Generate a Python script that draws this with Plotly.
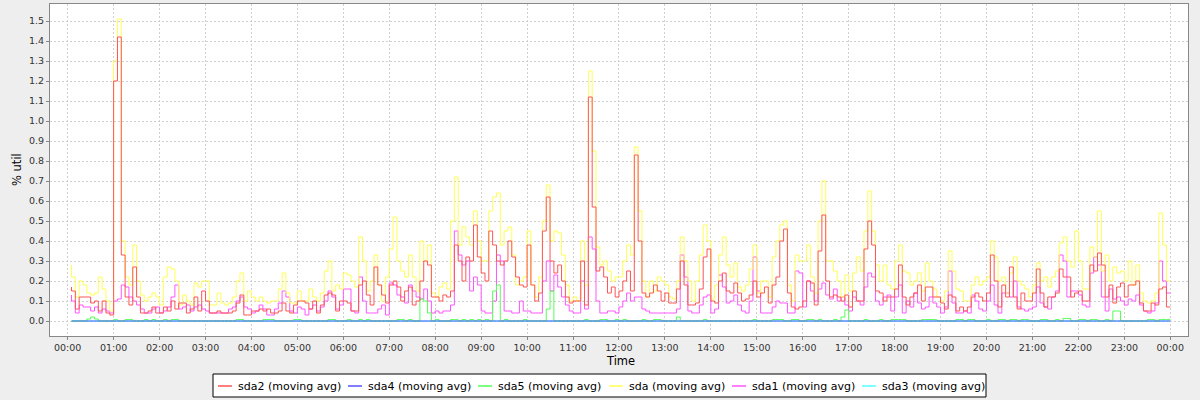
import pandas as pd
import plotly.graph_objects as go

# ---- data: 5-minute moving-average samples, 00:05 .. 24:00 (one row per hour) ----
start_time = "2024-01-01 00:05"
n_points = 288

sda2 = [
    0.17, 0.15, 0.06, 0.12, 0.12, 0.12, 0.09, 0.10, 0.05, 0.10, 0.04, 0.03,
    1.20, 1.42, 0.33, 0.12, 0.08, 0.27, 0.12, 0.04, 0.04, 0.05, 0.07, 0.04,
    0.04, 0.07, 0.05, 0.10, 0.06, 0.09, 0.09, 0.04, 0.06, 0.12, 0.05, 0.15,
    0.10, 0.04, 0.04, 0.05, 0.04, 0.04, 0.04, 0.05, 0.09, 0.13, 0.03, 0.03,
    0.05, 0.05, 0.06, 0.05, 0.06, 0.04, 0.04, 0.05, 0.09, 0.05, 0.04, 0.08,
    0.10, 0.10, 0.09, 0.06, 0.10, 0.04, 0.08, 0.13, 0.14, 0.13, 0.05, 0.10,
    0.10, 0.09, 0.05, 0.05, 0.18, 0.20, 0.13, 0.08, 0.27, 0.18, 0.13, 0.09,
    0.18, 0.20, 0.17, 0.10, 0.15, 0.17, 0.08, 0.10, 0.20, 0.30, 0.28, 0.12,
    0.12, 0.10, 0.13, 0.12, 0.15, 0.38, 0.30, 0.20, 0.32, 0.30, 0.48, 0.32,
    0.24, 0.20, 0.45, 0.38, 0.30, 0.28, 0.30, 0.40, 0.32, 0.22, 0.18, 0.17,
    0.38, 0.18, 0.10, 0.14, 0.45, 0.62, 0.30, 0.24, 0.28, 0.20, 0.12, 0.09,
    0.10, 0.10, 0.30, 0.08, 1.12, 0.57, 0.25, 0.27, 0.22, 0.14, 0.17, 0.12,
    0.15, 0.20, 0.25, 0.15, 0.83, 0.40, 0.14, 0.12, 0.14, 0.18, 0.15, 0.10,
    0.14, 0.09, 0.09, 0.16, 0.30, 0.18, 0.08, 0.08, 0.09, 0.16, 0.32, 0.36,
    0.10, 0.09, 0.20, 0.24, 0.15, 0.14, 0.19, 0.14, 0.10, 0.11, 0.13, 0.20,
    0.12, 0.14, 0.17, 0.09, 0.18, 0.22, 0.40, 0.46, 0.14, 0.07, 0.06, 0.07,
    0.10, 0.20, 0.19, 0.08, 0.35, 0.53, 0.20, 0.12, 0.13, 0.12, 0.10, 0.13,
    0.07, 0.15, 0.10, 0.10, 0.36, 0.50, 0.38, 0.15, 0.14, 0.10, 0.12, 0.12,
    0.16, 0.28, 0.12, 0.08, 0.12, 0.14, 0.18, 0.10, 0.17, 0.17, 0.12, 0.12,
    0.09, 0.06, 0.13, 0.12, 0.05, 0.07, 0.05, 0.07, 0.12, 0.14, 0.12, 0.10,
    0.14, 0.33, 0.20, 0.07, 0.18, 0.12, 0.27, 0.12, 0.06, 0.14, 0.10, 0.10,
    0.14, 0.26, 0.14, 0.07, 0.12, 0.12, 0.14, 0.26, 0.22, 0.22, 0.12, 0.14,
    0.15, 0.10, 0.10, 0.28, 0.25, 0.34, 0.28, 0.12, 0.18, 0.09, 0.17, 0.19,
    0.12, 0.18, 0.18, 0.20, 0.09, 0.05, 0.05, 0.09, 0.08, 0.16, 0.17, 0.07,
]

sda = [
    0.28, 0.22, 0.12, 0.20, 0.18, 0.14, 0.13, 0.14, 0.22, 0.16, 0.10, 0.05,
    1.30, 1.51, 0.40, 0.22, 0.18, 0.38, 0.20, 0.13, 0.10, 0.12, 0.14, 0.12,
    0.08, 0.22, 0.27, 0.26, 0.20, 0.08, 0.13, 0.10, 0.08, 0.19, 0.17, 0.20,
    0.20, 0.08, 0.08, 0.14, 0.09, 0.08, 0.09, 0.12, 0.20, 0.24, 0.10, 0.15,
    0.12, 0.10, 0.12, 0.10, 0.09, 0.10, 0.10, 0.16, 0.24, 0.14, 0.09, 0.09,
    0.15, 0.10, 0.10, 0.16, 0.12, 0.10, 0.14, 0.25, 0.30, 0.15, 0.18, 0.16,
    0.24, 0.23, 0.20, 0.17, 0.42, 0.30, 0.15, 0.20, 0.33, 0.18, 0.10, 0.22,
    0.36, 0.52, 0.30, 0.25, 0.22, 0.33, 0.22, 0.15, 0.40, 0.30, 0.38, 0.14,
    0.12, 0.17, 0.19, 0.16, 0.50, 0.72, 0.38, 0.47, 0.42, 0.38, 0.55, 0.40,
    0.30, 0.30, 0.55, 0.62, 0.64, 0.38, 0.45, 0.47, 0.33, 0.18, 0.20, 0.22,
    0.45, 0.18, 0.12, 0.22, 0.50, 0.68, 0.40, 0.45, 0.44, 0.33, 0.18, 0.10,
    0.12, 0.10, 0.40, 0.18, 1.25, 0.85, 0.37, 0.28, 0.30, 0.25, 0.20, 0.22,
    0.22, 0.30, 0.38, 0.33, 0.87, 0.55, 0.20, 0.12, 0.20, 0.15, 0.22, 0.20,
    0.18, 0.12, 0.11, 0.20, 0.42, 0.30, 0.20, 0.10, 0.20, 0.33, 0.48, 0.40,
    0.11, 0.18, 0.33, 0.42, 0.28, 0.22, 0.29, 0.17, 0.15, 0.18, 0.26, 0.38,
    0.14, 0.20, 0.20, 0.12, 0.32, 0.40, 0.48, 0.50, 0.18, 0.10, 0.33, 0.30,
    0.30, 0.38, 0.22, 0.14, 0.50, 0.70, 0.30, 0.30, 0.25, 0.20, 0.12, 0.23,
    0.15, 0.24, 0.32, 0.25, 0.45, 0.65, 0.45, 0.28, 0.20, 0.28, 0.18, 0.16,
    0.30, 0.38, 0.25, 0.24, 0.18, 0.20, 0.24, 0.15, 0.29, 0.20, 0.16, 0.12,
    0.10, 0.15, 0.35, 0.25, 0.16, 0.15, 0.10, 0.10, 0.18, 0.22, 0.18, 0.20,
    0.22, 0.40, 0.32, 0.20, 0.22, 0.14, 0.24, 0.32, 0.20, 0.18, 0.16, 0.12,
    0.18, 0.29, 0.20, 0.22, 0.17, 0.22, 0.25, 0.39, 0.42, 0.30, 0.27, 0.45,
    0.30, 0.16, 0.16, 0.37, 0.32, 0.55, 0.25, 0.33, 0.20, 0.27, 0.24, 0.25,
    0.20, 0.30, 0.18, 0.28, 0.14, 0.10, 0.09, 0.10, 0.14, 0.54, 0.38, 0.20,
]

sda1 = [
    0.13, 0.10, 0.04, 0.08, 0.07, 0.07, 0.05, 0.07, 0.04, 0.06, 0.05, 0.04,
    0.10, 0.11, 0.18, 0.17, 0.12, 0.10, 0.08, 0.06, 0.04, 0.04, 0.06, 0.07,
    0.04, 0.05, 0.07, 0.12, 0.18, 0.06, 0.07, 0.08, 0.05, 0.07, 0.08, 0.06,
    0.05, 0.04, 0.04, 0.04, 0.04, 0.04, 0.06, 0.07, 0.10, 0.12, 0.07, 0.06,
    0.04, 0.05, 0.08, 0.06, 0.03, 0.03, 0.06, 0.09, 0.15, 0.12, 0.05, 0.04,
    0.07, 0.06, 0.03, 0.06, 0.08, 0.05, 0.07, 0.10, 0.15, 0.12, 0.06, 0.08,
    0.16, 0.16, 0.05, 0.04, 0.22, 0.10, 0.04, 0.04, 0.04, 0.06, 0.08, 0.03,
    0.19, 0.18, 0.13, 0.12, 0.09, 0.18, 0.15, 0.12, 0.11, 0.16, 0.10, 0.04,
    0.05, 0.04, 0.05, 0.05, 0.08, 0.45, 0.33, 0.28, 0.30, 0.15, 0.22, 0.18,
    0.05, 0.04, 0.04, 0.10, 0.33, 0.30, 0.05, 0.05, 0.04, 0.04, 0.10, 0.05,
    0.05, 0.04, 0.04, 0.04, 0.20, 0.30, 0.15, 0.23, 0.17, 0.12, 0.08, 0.05,
    0.04, 0.04, 0.20, 0.06, 0.42, 0.36, 0.10, 0.04, 0.04, 0.05, 0.05, 0.04,
    0.07, 0.10, 0.14, 0.10, 0.12, 0.12, 0.06, 0.05, 0.04, 0.04, 0.04, 0.04,
    0.04, 0.04, 0.04, 0.06, 0.33, 0.22, 0.05, 0.04, 0.04, 0.08, 0.12, 0.13,
    0.04, 0.06, 0.23, 0.17, 0.09, 0.10, 0.13, 0.08, 0.05, 0.04, 0.10, 0.32,
    0.15, 0.04, 0.04, 0.04, 0.07, 0.10, 0.09, 0.09, 0.04, 0.04, 0.25, 0.24,
    0.07, 0.20, 0.15, 0.10, 0.16, 0.19, 0.13, 0.11, 0.16, 0.10, 0.12, 0.08,
    0.05, 0.12, 0.10, 0.08, 0.17, 0.24, 0.22, 0.10, 0.08, 0.12, 0.13, 0.05,
    0.12, 0.18, 0.04, 0.10, 0.07, 0.14, 0.09, 0.06, 0.07, 0.12, 0.09, 0.07,
    0.04, 0.07, 0.25, 0.09, 0.04, 0.04, 0.05, 0.04, 0.13, 0.10, 0.06, 0.05,
    0.10, 0.18, 0.08, 0.04, 0.14, 0.14, 0.12, 0.20, 0.07, 0.06, 0.05, 0.06,
    0.07, 0.17, 0.09, 0.07, 0.06, 0.12, 0.15, 0.33, 0.30, 0.12, 0.15, 0.15,
    0.13, 0.08, 0.07, 0.24, 0.32, 0.28, 0.12, 0.05, 0.16, 0.11, 0.12, 0.10,
    0.08, 0.11, 0.10, 0.13, 0.08, 0.05, 0.04, 0.05, 0.09, 0.30, 0.20, 0.14,
]

sda5 = [
    0, 0, 0, 0, 0, 0.010, 0.020, 0.010, 0, 0, 0, 0,
    0.007, 0, 0, 0.007, 0.007, 0, 0, 0, 0.007, 0, 0.007, 0,
    0, 0.007, 0, 0.007, 0.007, 0, 0, 0, 0, 0, 0, 0,
    0, 0, 0, 0, 0, 0, 0, 0, 0.007, 0.007, 0, 0,
    0, 0, 0, 0.007, 0.007, 0.007, 0, 0, 0, 0, 0, 0.007,
    0.007, 0, 0, 0, 0, 0, 0, 0, 0.007, 0.007, 0, 0,
    0, 0.007, 0, 0, 0.007, 0, 0.007, 0, 0, 0, 0, 0,
    0, 0, 0.007, 0.007, 0, 0.007, 0, 0, 0.110, 0.100, 0.040, 0,
    0.007, 0, 0, 0, 0.007, 0.007, 0, 0.007, 0, 0.007, 0, 0.007,
    0, 0.007, 0, 0.150, 0.180, 0, 0.007, 0, 0, 0, 0, 0.007,
    0, 0, 0, 0, 0, 0.060, 0.150, 0, 0, 0, 0, 0,
    0, 0, 0, 0.007, 0, 0, 0, 0.007, 0.007, 0, 0, 0.007,
    0, 0.007, 0, 0, 0, 0, 0.007, 0, 0, 0.007, 0.007, 0,
    0, 0, 0, 0.020, 0, 0, 0, 0, 0, 0, 0.007, 0,
    0, 0, 0, 0, 0, 0, 0, 0, 0, 0, 0, 0.007,
    0, 0, 0, 0, 0.007, 0.007, 0.007, 0, 0, 0.007, 0.007, 0,
    0, 0.007, 0.007, 0, 0.007, 0, 0, 0, 0.007, 0, 0.020, 0.055,
    0, 0, 0, 0, 0.007, 0, 0, 0, 0.007, 0, 0, 0.007,
    0.007, 0.007, 0.007, 0, 0, 0, 0, 0.007, 0.007, 0.007, 0.007, 0,
    0, 0, 0, 0, 0.007, 0.007, 0, 0.007, 0.007, 0, 0, 0,
    0.007, 0, 0, 0.007, 0.007, 0, 0.007, 0.007, 0, 0.007, 0.007, 0,
    0, 0, 0.007, 0.007, 0, 0, 0.007, 0, 0.013, 0.013, 0, 0,
    0.007, 0.007, 0, 0.007, 0.007, 0, 0, 0.007, 0, 0.050, 0.050, 0,
    0, 0, 0, 0, 0, 0, 0.007, 0.007, 0, 0.007, 0.007, 0.007,
]

sda4 = [0.0] * n_points   # flat at zero all day
sda3 = [0.0] * n_points   # flat at zero all day (hidden under sda4)

series_names = ["sda2 (moving avg)", "sda4 (moving avg)", "sda5 (moving avg)",
                "sda (moving avg)", "sda1 (moving avg)", "sda3 (moving avg)"]
series_values = [sda2, sda4, sda5, sda, sda1, sda3]
series_colors = ["#FF5555", "#5555FF", "#55FF55", "#FFFF55", "#FF55FF", "#55FFFF"]

x_ticks_fmt = "%H:%M"
y_tick_vals = [round(0.1 * i, 1) for i in range(16)]

times = pd.date_range(start_time, periods=n_points, freq="5min")

fig = go.Figure()
# JFreeChart renders in reverse order: first series ends up on top
for name, vals, col in reversed(list(zip(series_names, series_values, series_colors))):
    fig.add_trace(go.Scatter(
        x=times, y=vals, name=name, mode="lines",
        line=dict(color=col, width=1, shape="vh"),
        showlegend=False, hoverinfo="skip",
    ))

# ---- layout geometry (pixels) ----
W, H = 1200, 400
PL, PR, PT, PB = 50, 1188, 4, 336


def px_x(px):
    return (px - PL) / (PR - PL)


def px_y(py):
    return (PB - py) / (PB - PT)


grid_col = "#CFCFCF"
axis_col = "#888888"
tick_font = dict(family="DejaVu Sans", size=9.5, color="#333333")

fig.update_layout(
    width=W, height=H,
    margin=dict(l=PL, r=W - PR, t=PT, b=H - PB),
    paper_bgcolor="#EEEEEE",
    plot_bgcolor="#FFFFFF",
    font=dict(family="DejaVu Sans", size=11, color="#000000"),
    xaxis=dict(
        type="date", automargin=False,
        range=["2023-12-31 23:36:54", "2024-01-02 00:23:10"],
        tickformat=x_ticks_fmt, dtick=3600000, tick0="2024-01-01 00:00",
        showgrid=True, gridcolor=grid_col, griddash="2px,2px", gridwidth=1,
        ticks="outside", ticklen=3, tickcolor=axis_col,
        showline=True, linecolor=axis_col, linewidth=1, mirror=True,
        tickfont=tick_font, zeroline=False,
    ),
    yaxis=dict(
        automargin=False,
        range=[-0.075, 1.585],
        tickvals=y_tick_vals, tickformat=".1f",
        showgrid=True, gridcolor=grid_col, griddash="2px,2px", gridwidth=1,
        ticks="outside", ticklen=3, tickcolor=axis_col,
        showline=True, linecolor=axis_col, linewidth=1, mirror=True,
        tickfont=tick_font, zeroline=False,
    ),
    showlegend=False,
)

# axis titles placed where the reference has them
fig.add_annotation(xref="paper", yref="paper", x=px_x(620), y=px_y(361),
                   text="Time", showarrow=False, xanchor="center", yanchor="middle",
                   font=dict(family="DejaVu Sans", size=11.5, color="#000000"))
fig.add_annotation(xref="paper", yref="paper", x=px_x(17), y=px_y(170),
                   text="% util", showarrow=False, textangle=-90,
                   xanchor="center", yanchor="middle",
                   font=dict(family="DejaVu Sans", size=11.5, color="#000000"))

# ---- manual legend box, styled like the JFreeChart legend ----
leg_x0, leg_x1, leg_y0, leg_y1 = 213, 986, 374, 397
fig.add_shape(type="rect", xref="paper", yref="paper",
              x0=px_x(leg_x0), x1=px_x(leg_x1), y0=px_y(leg_y1), y1=px_y(leg_y0),
              line=dict(color="#000000", width=1), fillcolor="#FFFFFF", layer="above")
item_line_x = [218, 348, 478, 609, 732, 862]
item_text_x = [236, 366, 496, 627, 750, 880]
leg_mid = 386
for name, col, lx, tx in zip(series_names, series_colors, item_line_x, item_text_x):
    fig.add_shape(type="line", xref="paper", yref="paper",
                  x0=px_x(lx), x1=px_x(lx + 14), y0=px_y(leg_mid), y1=px_y(leg_mid),
                  line=dict(color=col, width=1.5), layer="above")
    fig.add_annotation(xref="paper", yref="paper", x=px_x(tx), y=px_y(leg_mid),
                       text=name, showarrow=False, xanchor="left", yanchor="middle",
                       font=dict(family="DejaVu Sans", size=11, color="#000000"))

fig.write_html(
    "out.html",
    config={"displayModeBar": False},
    post_script="document.body.style.margin='0';document.body.style.overflow='hidden';",
)
